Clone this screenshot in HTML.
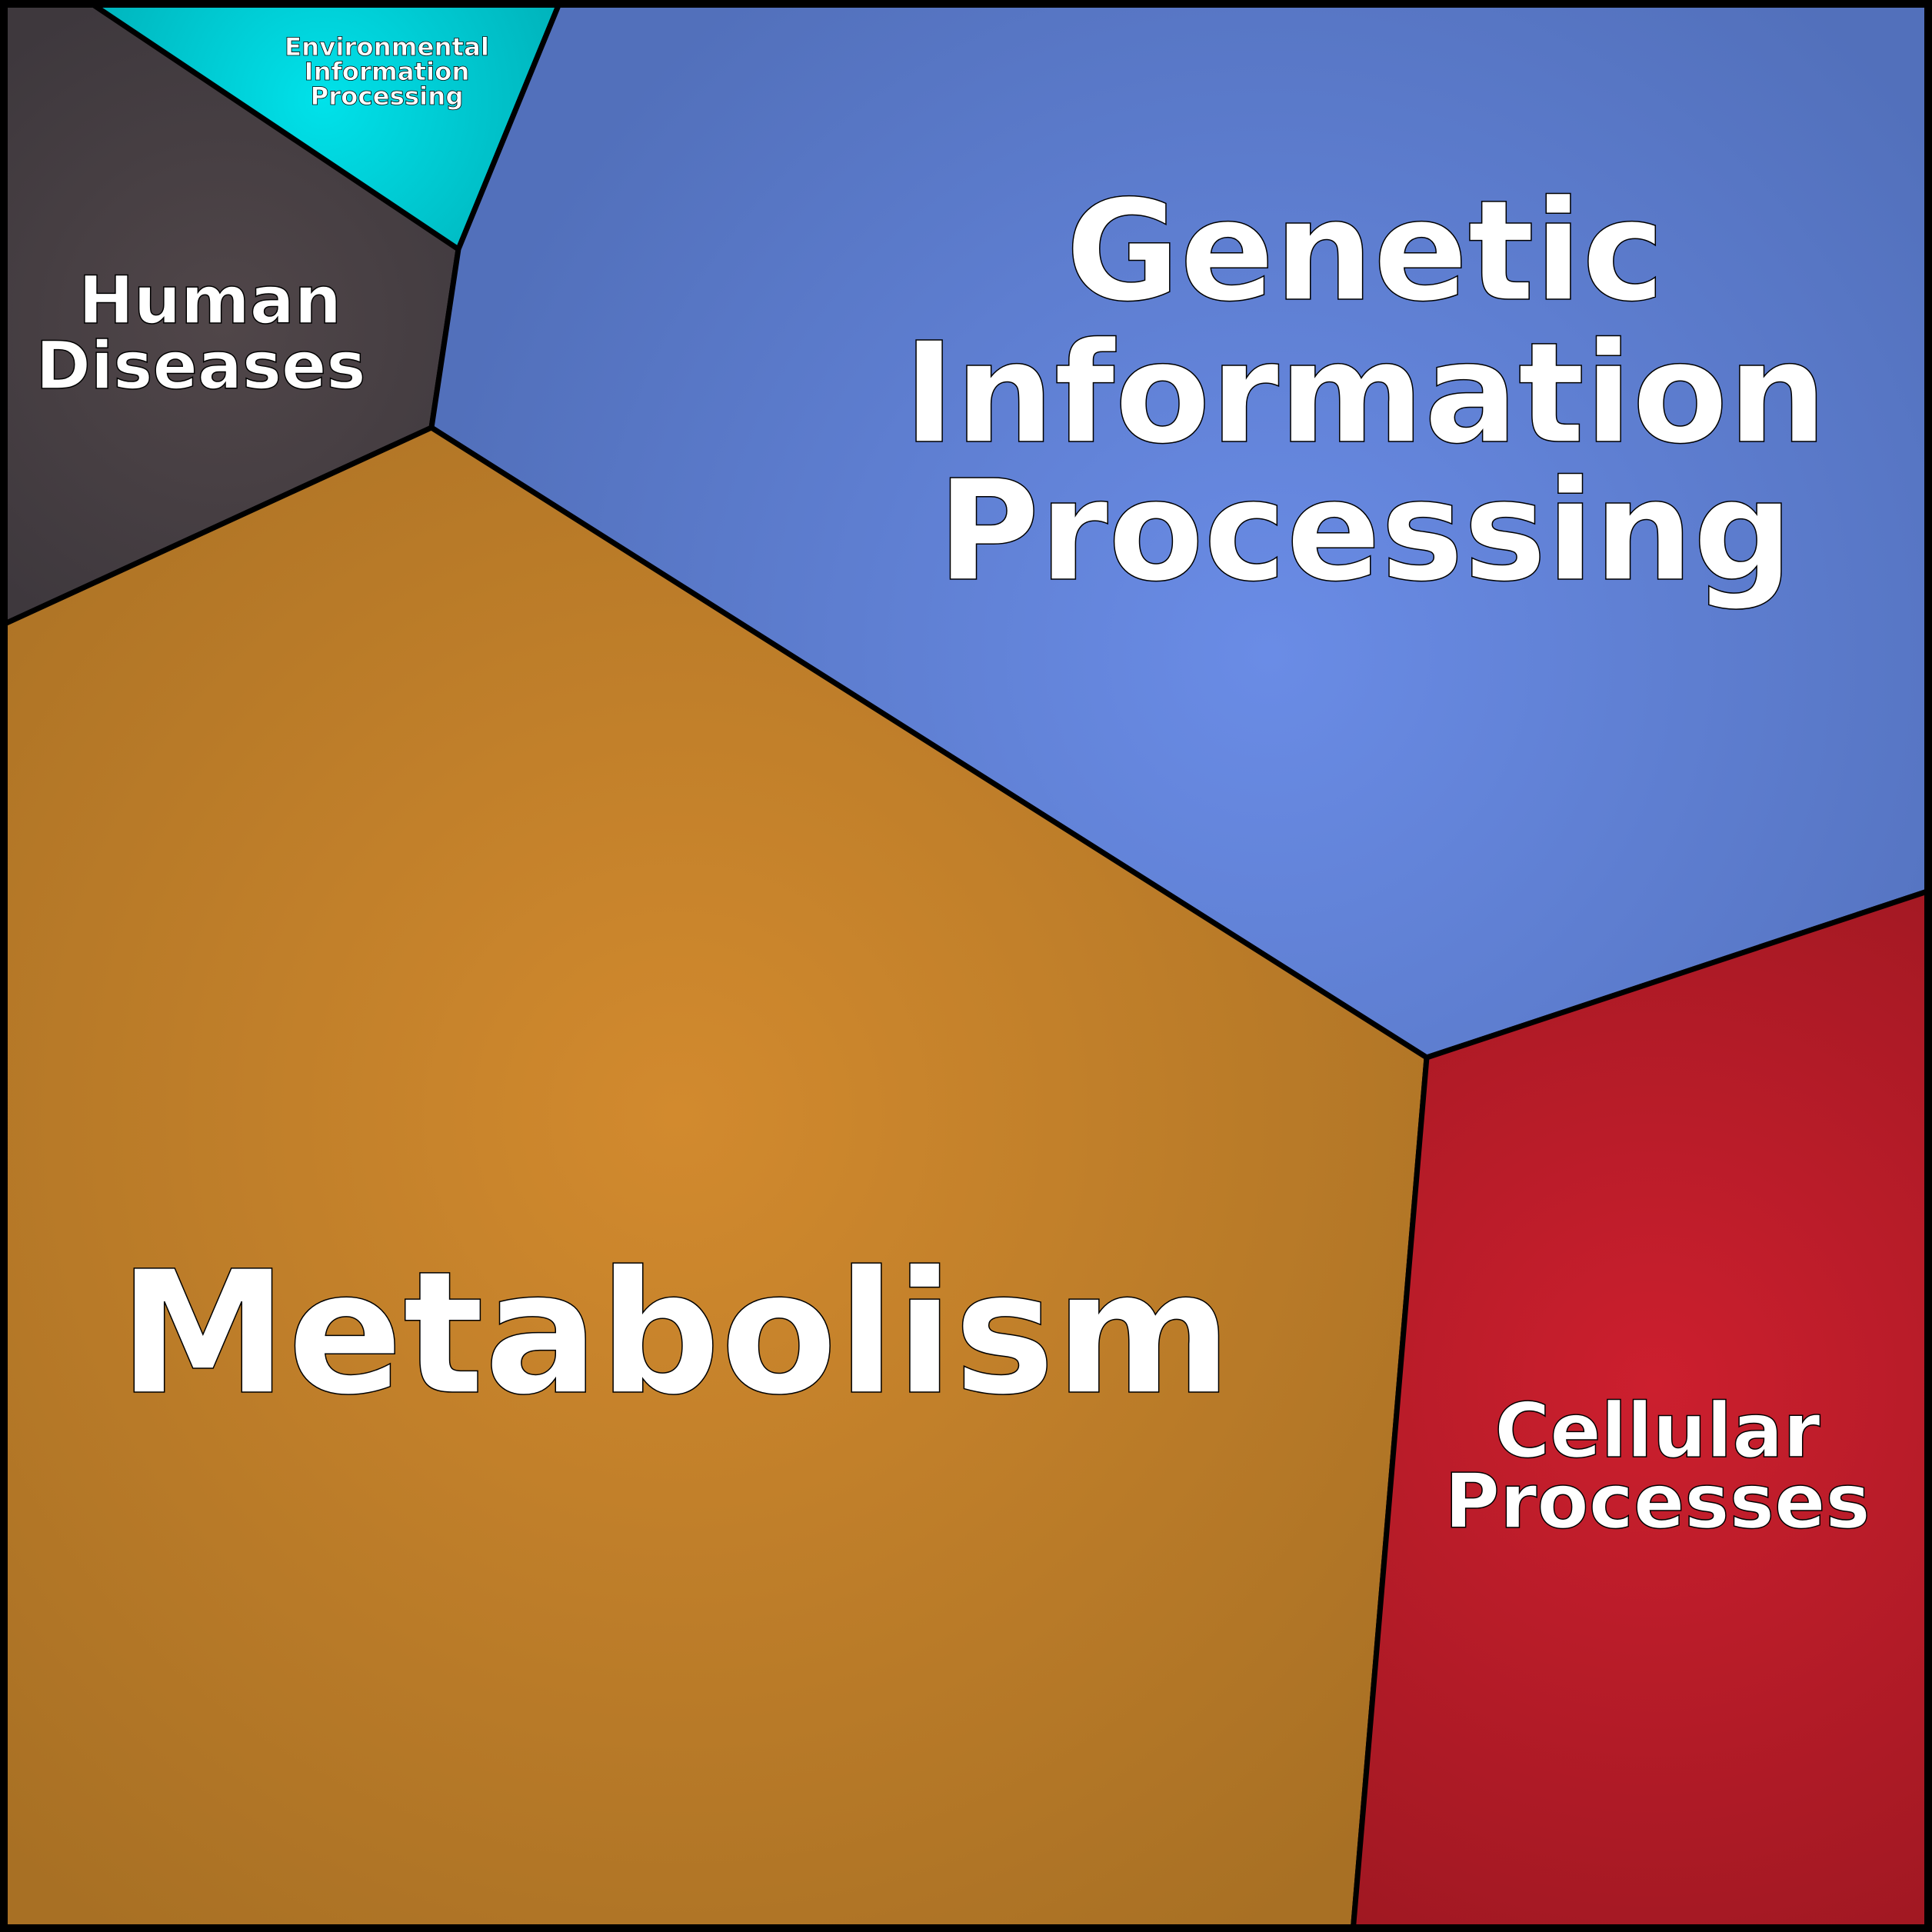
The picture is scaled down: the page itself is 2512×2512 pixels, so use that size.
<!DOCTYPE html>
<html><head><meta charset="utf-8"><style>html,body{margin:0;padding:0;background:#000}svg{display:block}</style></head>
<body>
<svg width="2512" height="2512" viewBox="0 0 2512 2512" xmlns="http://www.w3.org/2000/svg">
<defs>
<radialGradient id="gm" gradientUnits="userSpaceOnUse" cx="880" cy="1450" r="1300"><stop offset="0" stop-color="#d28a2e"/><stop offset="1" stop-color="#a87024"/></radialGradient>
<radialGradient id="gg" gradientUnits="userSpaceOnUse" cx="1650" cy="850" r="1100"><stop offset="0" stop-color="#6a8ce6"/><stop offset="1" stop-color="#5270bb"/></radialGradient>
<radialGradient id="gc" gradientUnits="userSpaceOnUse" cx="2150" cy="1800" r="800"><stop offset="0" stop-color="#cc1f2e"/><stop offset="1" stop-color="#a01822"/></radialGradient>
<radialGradient id="gh" gradientUnits="userSpaceOnUse" cx="290" cy="420" r="450"><stop offset="0" stop-color="#504649"/><stop offset="1" stop-color="#3e383d"/></radialGradient>
<radialGradient id="ge" gradientUnits="userSpaceOnUse" cx="420" cy="130" r="350"><stop offset="0" stop-color="#00e2ea"/><stop offset="1" stop-color="#00b0b8"/></radialGradient>
</defs>
<g stroke="#000" stroke-width="7" stroke-linejoin="round">
<polygon points="0,0 112,0 596,324 561,556 0,814" fill="url(#gh)"/>
<polygon points="112,0 729,0 596,324" fill="url(#ge)"/>
<polygon points="729,0 2512,0 2512,1157 1855,1375 561,556 596,324" fill="url(#gg)"/>
<polygon points="0,814 561,556 1855,1375 1759,2512 0,2512" fill="url(#gm)"/>
<polygon points="1855,1375 2512,1157 2512,2512 1759,2512" fill="url(#gc)"/>
</g>
<rect x="5" y="5" width="2502" height="2502" fill="none" stroke="#000" stroke-width="10"/>
<g font-family="'DejaVu Sans','Liberation Sans',sans-serif" font-weight="bold" fill="#fff" stroke="#000" stroke-width="1.5" text-anchor="middle">
<text x="878" y="1810" font-size="221">Metabolism</text>
<text font-size="181"><tspan x="1775" y="389">Genetic</tspan><tspan x="1775" y="574">Information</tspan><tspan x="1775" y="753">Processing</tspan></text>
<text font-size="86"><tspan x="273" y="420">Human</tspan><tspan x="261" y="505">Diseases</tspan></text>
<text font-size="98"><tspan x="2155" y="1894">Cellular</tspan><tspan x="2155" y="1986">Processes</tspan></text>
<text font-size="32.4" stroke-width="0.8"><tspan x="503" y="72">Environmental</tspan><tspan x="503" y="104">Information</tspan><tspan x="503" y="136">Processing</tspan></text>
</g>
</svg>
</body></html>
